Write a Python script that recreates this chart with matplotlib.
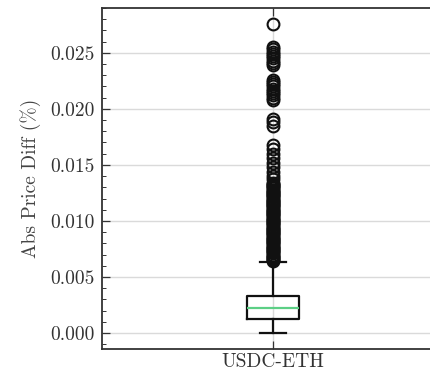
import matplotlib
matplotlib.use("Agg")
import matplotlib.pyplot as plt
from matplotlib.ticker import MultipleLocator

plt.rcParams["font.family"] = "serif"
plt.rcParams["font.serif"] = ["cmr10"]
plt.rcParams["mathtext.fontset"] = "cm"
plt.rcParams["axes.formatter.use_mathtext"] = True

LABEL = "USDC-ETH"

# box summary (abs price diff, %)
Q1 = 0.00122
MEDIAN = 0.0022
Q3 = 0.0033
WHISK_LO = 0.0
WHISK_HI = 0.0063

# outliers above the upper whisker
FLIERS = [
    0.0276,
    0.0255, 0.0253, 0.0251, 0.0249, 0.0247, 0.0245, 0.0243, 0.0241, 0.0239,
    0.0226, 0.0224, 0.0222, 0.0220, 0.0218, 0.0216, 0.0214, 0.0212, 0.0210, 0.0208,
    0.0191, 0.0188, 0.0185,
    0.0168, 0.0164, 0.0160, 0.0156, 0.0152, 0.0148, 0.0144, 0.0140, 0.0137,
    0.0134, 0.0133, 0.0132, 0.0131, 0.0130, 0.0129, 0.0128, 0.0127, 0.0126, 0.0125,
    0.0124, 0.0123, 0.0122, 0.0121, 0.0120, 0.0119, 0.0118, 0.0117, 0.0116, 0.0115,
    0.0114, 0.0113, 0.0112, 0.0111, 0.0110, 0.0109, 0.0108, 0.0107, 0.0106, 0.0105,
    0.0104, 0.0103, 0.0102, 0.0101, 0.0100, 0.0099, 0.0098, 0.0097, 0.0096, 0.0095,
    0.0094, 0.0093, 0.0092, 0.0091, 0.0090, 0.0089, 0.0088, 0.0087, 0.0086, 0.0085,
    0.0084, 0.0083, 0.0082, 0.0081, 0.0080, 0.0079, 0.0078, 0.0077, 0.0076, 0.0075,
    0.0074, 0.0073, 0.0072, 0.0071, 0.0070, 0.0069, 0.0068, 0.0067, 0.0066, 0.0065,
    0.0064,
]

stats = [{
    "label": LABEL, "q1": Q1, "med": MEDIAN, "q3": Q3,
    "whislo": WHISK_LO, "whishi": WHISK_HI, "fliers": FLIERS,
}]

fig = plt.figure(figsize=(4.31, 3.71), dpi=100)
ax = fig.add_axes([0.2367, 0.0593, 0.7935, 0.9191])

ax.bxp(
    stats, widths=0.15,
    boxprops=dict(color="#111111", linewidth=1.6),
    whiskerprops=dict(color="#111111", linewidth=1.6),
    capprops=dict(color="#111111", linewidth=1.6),
    medianprops=dict(color="#5ccf85", linewidth=1.6),
    flierprops=dict(marker="o", markersize=8.5, markerfacecolor="none",
                    markeredgecolor="#111111", markeredgewidth=1.5),
)

ax.set_xlim(0.5, 1.5)
ax.set_ylim(-0.00143, 0.0290)
ax.yaxis.set_major_locator(MultipleLocator(0.005))
ax.yaxis.set_minor_locator(MultipleLocator(0.001))
ax.yaxis.set_major_formatter(matplotlib.ticker.FormatStrFormatter("%.3f"))

ax.grid(True, color="#dadada", linewidth=1.0)
ax.set_axisbelow(True)
for s in ax.spines.values():
    s.set_color("#333333")
    s.set_linewidth(1.3)

ax.tick_params(which="both", direction="in", top=True, right=True,
               labelsize=14, colors="#333333", labelcolor="#333333", pad=5)
ax.tick_params(which="major", length=6, width=0.9)
ax.tick_params(which="minor", length=3, width=0.7)
ax.tick_params(axis="x", which="minor", length=0)
ax.tick_params(axis="x", pad=3)

ax.set_ylabel("Abs Price Diff (%)", fontsize=14, color="#444444", labelpad=7)

fig.savefig("out.png", dpi=100)
